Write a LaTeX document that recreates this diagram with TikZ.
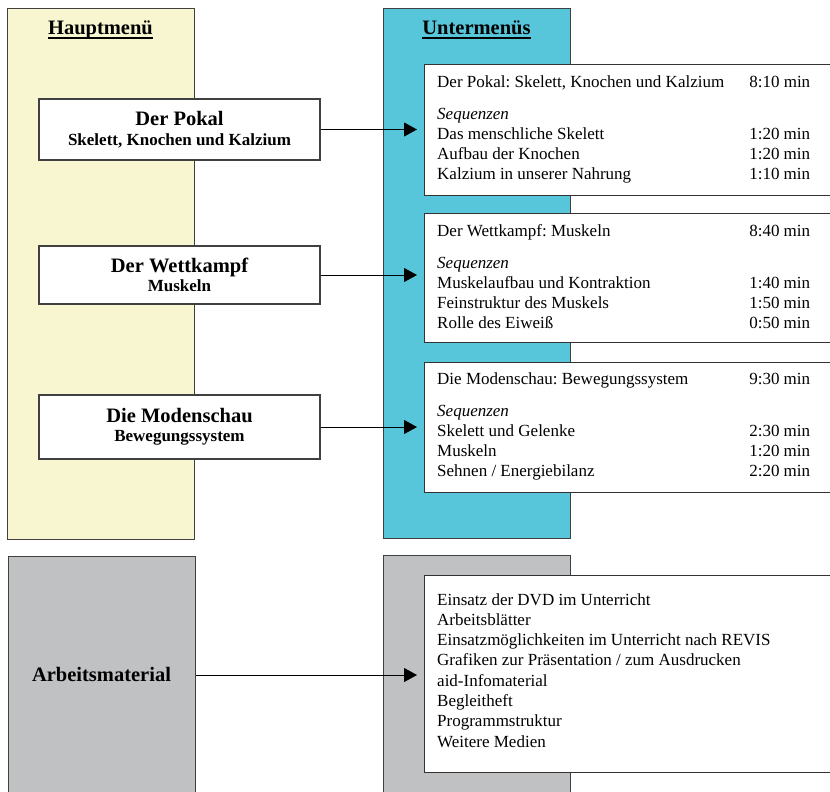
\documentclass[tikz,border=0pt]{standalone}
\usepackage{fontspec}
\setmainfont{Liberation Serif}
\usetikzlibrary{arrows.meta}
\definecolor{hgelb}{HTML}{F8F6D0}
\definecolor{ublau}{HTML}{57C6DA}
\definecolor{agrau}{HTML}{C0C1C3}
\frenchspacing
\newcommand{\zeit}[1]{\begin{tabular*}{373pt}[t]{@{\extracolsep{\fill}}l r@{}}#1\end{tabular*}}

\begin{document}
\begin{tikzpicture}[x=1pt,y=-1pt,
	spalte/.style={draw=black!75,line width=1.2pt,anchor=north west,inner sep=0pt,minimum width=187pt},
	menue/.style={draw=black!75,line width=1.2pt,fill=white,minimum width=281pt,align=center,inner sep=0pt,font=\bfseries\fontsize{17}{19.5}\selectfont},
	unterbox/.style={draw=black!80,line width=1.2pt,fill=white,anchor=north west,minimum width=420pt,inner sep=0pt},
	liste/.style={anchor=base west,inner sep=0pt,font=\fontsize{17}{20}\selectfont},
	kopf/.style={font=\bfseries\fontsize{20.5}{24}\selectfont,inner sep=0pt,anchor=base},
	pfeil/.style={line width=1pt,-{Triangle[length=13pt,width=14pt]},shorten >=7pt}]
		\useasboundingbox (0,0) rectangle (830,792);
		\node[spalte,fill=hgelb,minimum height=531pt] (haupt) at (7,8) {};
		\node[spalte,fill=ublau,minimum height=530pt] (unter) at (383,8) {};
		\node[spalte,fill=agrau,minimum height=260pt] (arbeit) at (8,556) {};
		\node[spalte,fill=agrau,minimum height=260pt] (material) at (383,555) {};
		\node[kopf] (hauptlabel) at (100.5,35) {Hauptmenü};
		\node[kopf] (unterlabel) at (476.5,35) {Untermenüs};
		\draw[line width=1.2pt] ([yshift=-3pt]hauptlabel.base west) -- ([yshift=-3pt]hauptlabel.base east);
		\draw[line width=1.2pt] ([yshift=-3pt]unterlabel.base west) -- ([yshift=-3pt]unterlabel.base east);
		\node[menue,minimum height=61pt] (pokal) at (179.5,129.5) {{\fontsize{20.5}{24}\selectfont Der Pokal}\\Skelett, Knochen und Kalzium};
		\node[menue,minimum height=58pt] (wettkampf) at (179.5,275) {{\fontsize{20.5}{24}\selectfont Der Wettkampf}\\Muskeln};
		\node[menue,minimum height=64pt] (modenschau) at (179.5,427) {{\fontsize{20.5}{24}\selectfont Die Modenschau}\\Bewegungssystem};
		\node[unterbox,minimum height=131pt] (sub1) at (424,64) {};
		\node[unterbox,minimum height=129pt] (sub2) at (424,213) {};
		\node[unterbox,minimum height=130pt] (sub3) at (424,362) {};
		\node[unterbox,minimum height=197pt] (sub4) at (424,575) {};
		\node[liste] (sub1text) at (437,88) {\zeit{Der Pokal: Skelett, Knochen und Kalzium & 8:10 min\\[12pt]
			\textit{Sequenzen} & \\
			Das menschliche Skelett & 1:20 min\\
			Aufbau der Knochen & 1:20 min\\
			Kalzium in unserer Nahrung & 1:10 min}};
		\node[liste] (sub2text) at (437,236) {\zeit{Der Wettkampf: Muskeln & 8:40 min\\[12pt]
			\textit{Sequenzen} & \\
			Muskelaufbau und Kontraktion & 1:40 min\\
			Feinstruktur des Muskels & 1:50 min\\
			Rolle des Eiweiß & 0:50 min}};
		\node[liste] (sub3text) at (437,384) {\zeit{Die Modenschau: Bewegungssystem & 9:30 min\\[12pt]
			\textit{Sequenzen} & \\
			Skelett und Gelenke & 2:30 min\\
			Muskeln & 1:20 min\\
			Sehnen / Energiebilanz & 2:20 min}};
		\node[liste,font=\fontsize{17}{20.3}\selectfont] (sub4text) at (437,605) {\begin{tabular}[t]{@{}l@{}}Einsatz der DVD im Unterricht\\
			Arbeitsblätter\\
			Einsatzmöglichkeiten im Unterricht nach REVIS\\
			Grafiken zur Präsentation / zum Ausdrucken\\
			aid-Infomaterial\\
			Begleitheft\\
			Programmstruktur\\
			Weitere Medien\end{tabular}};
		\node[kopf] (arbeitlabel) at (101.5,681) {Arbeitsmaterial};
		\draw[pfeil] (pokal.east) -- (pokal.east -| sub1.west);
		\draw[pfeil] (wettkampf.east) -- (wettkampf.east -| sub2.west);
		\draw[pfeil] (modenschau.east) -- (modenschau.east -| sub3.west);
		\draw[pfeil] (arbeit.east |- 0,675) -- (sub4.west |- 0,675);
		\end{tikzpicture}
\end{document}
